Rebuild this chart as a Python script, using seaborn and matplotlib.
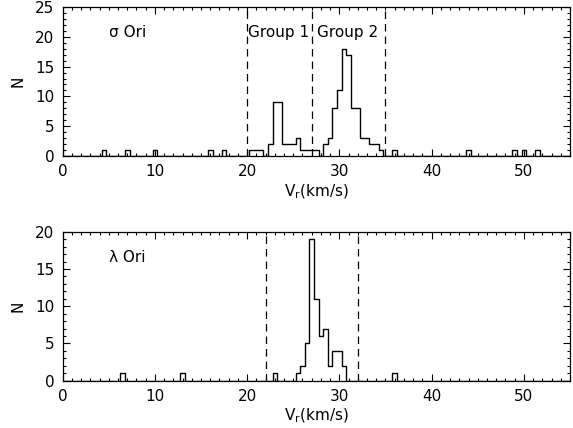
import numpy as np
import matplotlib
matplotlib.use("Agg")
import matplotlib.pyplot as plt
from matplotlib.ticker import MultipleLocator
import seaborn as sns

# sigma Ori: bin centres (km/s) and counts, 0.5 km/s bins
sig_v = [4.5, 7.0, 10.0, 16.0, 17.5,
         20.5, 21.0, 21.5, 22.5, 23.0, 23.5, 24.0, 24.5, 25.0, 25.5,
         26.0, 26.5, 27.0, 27.5,
         28.5, 29.0, 29.5, 30.0, 30.5, 31.0, 31.5, 32.0, 32.5, 33.0,
         33.5, 34.0, 34.5,
         36.0, 44.0, 49.0, 50.0, 51.5]
sig_n = [1, 1, 1, 1, 1,
         1, 1, 1, 2, 9, 9, 2, 2, 2, 3,
         1, 1, 1, 1,
         2, 3, 8, 11, 18, 17, 8, 8, 3, 3,
         2, 2, 1,
         1, 1, 1, 1, 1]

# lambda Ori
lam_v = [6.5, 13.0, 23.0, 25.5, 26.0, 26.5, 27.0, 27.5, 28.0, 28.5,
         29.0, 29.5, 30.0, 30.5, 36.0]
lam_n = [1, 1, 1, 1, 2, 5, 19, 11, 6, 7,
         2, 4, 4, 2, 1]

sig_cuts = [20, 27, 35]
lam_cuts = [22, 32]

edges = list(np.arange(-0.25, 55.5, 0.5))

sns.set_style("ticks", {"xtick.direction": "in", "ytick.direction": "in"})
plt.rcParams["font.family"] = ["DejaVu Sans"]
plt.rcParams["font.size"] = 11
plt.rcParams["text.color"] = "black"
plt.rcParams["axes.labelcolor"] = "black"

fig = plt.figure(figsize=(5.73, 4.28), dpi=100)
ax1 = fig.add_axes([0.1094, 0.6355, 0.8853, 0.3482])
ax2 = fig.add_axes([0.1094, 0.1105, 0.8853, 0.3481])


def style_axis(ax, ymax):
    ax.set_xlim(0, 55)
    ax.set_ylim(0, ymax)
    ax.xaxis.set_major_locator(MultipleLocator(10))
    ax.xaxis.set_minor_locator(MultipleLocator(1))
    ax.yaxis.set_major_locator(MultipleLocator(5))
    ax.yaxis.set_minor_locator(MultipleLocator(1))
    ax.tick_params(which="both", top=True, right=True, direction="in",
                   color="black", width=0.8, labelsize=11, labelcolor="black")
    ax.tick_params(which="major", length=5)
    ax.tick_params(which="minor", length=2.5)
    ax.tick_params(axis="x", pad=6)
    ax.tick_params(axis="y", pad=6)
    for s in ax.spines.values():
        s.set_visible(True)
        s.set_color("black")
        s.set_linewidth(0.9)
    ax.set_xlabel(r"V$_\mathrm{r}$(km/s)", fontsize=11, labelpad=2)
    ax.set_ylabel("N", fontsize=11, labelpad=7)


sns.histplot(x=sig_v, weights=sig_n, bins=edges, element="step", fill=False,
             color="black", linewidth=1.0, ax=ax1)
for c in sig_cuts:
    ax1.axvline(c, color="black", linestyle=(0, (6, 4)), linewidth=0.9)
style_axis(ax1, 25)
ax1.text(5, 20.7, "σ Ori", va="center", fontsize=11)
ax1.text(20.1, 20.8, "Group 1", va="center", fontsize=11)
ax1.text(27.6, 20.8, "Group 2", va="center", fontsize=11)

sns.histplot(x=lam_v, weights=lam_n, bins=edges, element="step", fill=False,
             color="black", linewidth=1.0, ax=ax2)
for c in lam_cuts:
    ax2.axvline(c, color="black", linestyle=(0, (6, 4)), linewidth=0.9)
style_axis(ax2, 20)
ax2.text(5, 16.6, "λ Ori", va="center", fontsize=11)

fig.savefig("out.png", dpi=100)
